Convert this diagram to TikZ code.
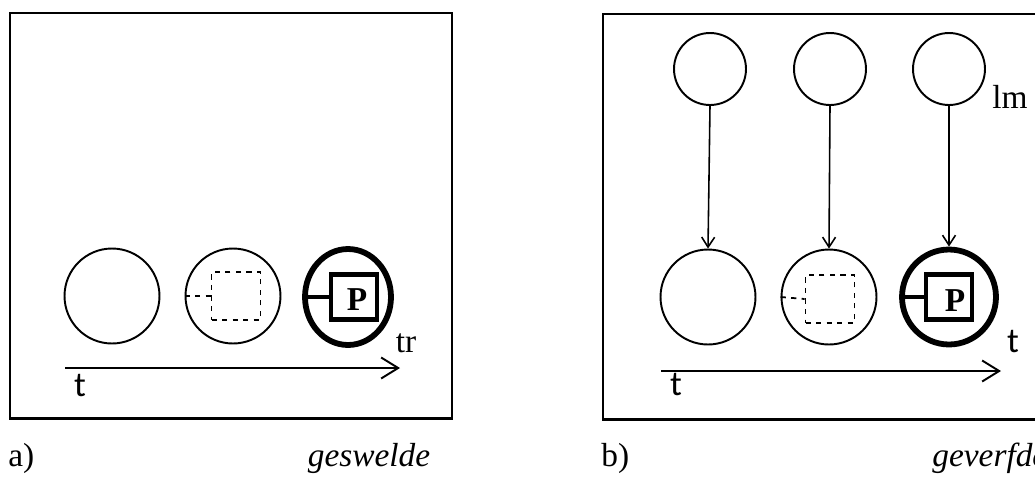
\documentclass[tikz,border=0pt]{standalone}
\usepackage{fontspec}
\setmainfont{Liberation Serif}
\newfontfamily\tsans{Carlito}
\usepackage{tikz}
\usetikzlibrary{arrows.meta,positioning,calc,shapes.geometric}

\newcommand\lblfont{\fontsize{19}{23}\selectfont}
\newcommand\tfont{\tsans\fontsize{20}{24}\selectfont}
\newcommand\capfont{\fontsize{19}{23}\selectfont}

\tikzset{
    frame/.style={line width=1.7pt},
    state/.style={circle, draw, line width=1.1pt, inner sep=0pt},
    statebig/.style={state, minimum size=1.9cm},
    statetop/.style={state, minimum size=1.44cm},
    stateheavy/.style={ellipse, draw, line width=3.3pt, inner sep=0pt},
    ghost/.style={draw, dashed, line width=1pt, inner sep=0pt, minimum width=0.98cm, minimum height=0.95cm},
    holder/.style={draw, line width=2.8pt, inner sep=0pt, minimum width=0.92cm, minimum height=0.9cm},
    lbl/.style={font=\lblfont},
    tlbl/.style={font=\tfont},
    captxt/.style={font=\capfont},
    pmark/.style={font=\bfseries\fontsize{19}{22}\selectfont},
    timeline/.style={line width=1.1pt, -{Straight Barb[length=0.34cm, width=0.42cm, line width=1.1pt]}},
    link/.style={line width=0.9pt, -{Straight Barb[length=0.2cm, width=0.26cm, line width=0.9pt]}}
}

\begin{document}
\begin{tikzpicture}[x=0.02cm, y=-0.02cm]
    \useasboundingbox (0,0) rectangle (1035,481);

    % Frames
    \draw[frame] (10,13) rectangle (452,418);
    \draw[frame] (603,14) rectangle (1060,419);

    % a) swollen states
    \node[statebig] (a1) at (112,296) {};
    \node[statebig] (a2) at (233,296) {};
    \node[stateheavy, minimum width=1.72cm, minimum height=1.92cm] (a3) at (348,297) {};
    \node[ghost] (g2) at (236,296) {};
    \node[holder] (h3) at (354,297) {};
    \node[pmark] (p3) at (357,300) {P};
    \draw[dashed, line width=1pt] (a2.west) -- (g2.west);
    \draw[line width=2.8pt] (a3.west) -- (h3.west);
    \node[lbl] (tra) at (406,343) {tr};
    \coordinate (sa) at (65,368);
    \coordinate (ea) at (400,368);
    \draw[timeline] (sa) -- (ea);
    \node[tlbl] (ta) at (80,386) {t};

    % b) dyed states
    \node[statetop] (l1) at (710,69) {};
    \node[statetop] (l2) at (830,69) {};
    \node[statetop] (l3) at (949,69) {};
    \node[lbl] (lm) at (1010,97) {lm};
    \node[statebig] (b1) at (708,297) {};
    \node[statebig] (b2) at (829,297) {};
    \node[stateheavy, minimum width=1.88cm, minimum height=1.9cm] (b3) at (949,297) {};
    \node[ghost] (g5) at (830,299) {};
    \node[holder] (h6) at (949,297) {};
    \node[pmark] (p6) at (955,301) {P};
    \draw[dashed, line width=1pt] (b2.west) -- (g5.west);
    \draw[line width=2.8pt] (b3.west) -- (h6.west);
    \foreach \i in {1,2,3} {
        \draw[link] (l\i.south) -- (b\i.north);
    }
    \node[tlbl] (tb) at (1013,342) {t};
    \coordinate (sb) at (661,371);
    \coordinate (eb) at (1001,371);
    \draw[timeline] (sb) -- (eb);
    \node[tlbl] (tc) at (676,385) {t};

    % Captions
    \node[captxt, anchor=west, inner xsep=0pt] (capa) at (8,458) {a)};
    \node[captxt] (swa) at (369,458) {\itshape geswelde};
    \node[captxt, anchor=west, inner xsep=0pt] (capb) at (601,458) {b)};
    \node[captxt, anchor=west, inner xsep=0pt] (vfb) at (932,458) {\itshape geverfde};
\end{tikzpicture}
\end{document}
